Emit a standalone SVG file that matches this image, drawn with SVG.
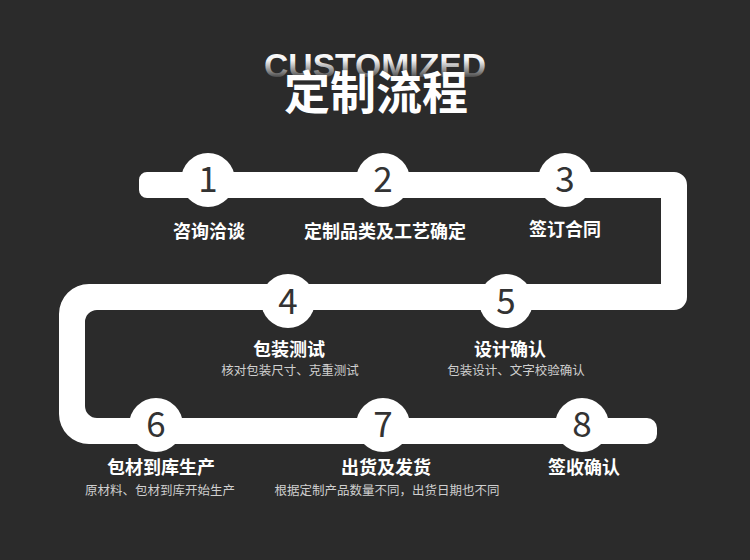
<svg xmlns="http://www.w3.org/2000/svg" width="750" height="560" viewBox="0 0 750 560">
  <defs>
    <linearGradient id="fade" gradientUnits="userSpaceOnUse" x1="0" y1="50" x2="0" y2="80">
      <stop offset="0" stop-color="#ffffff"/>
      <stop offset="0.35" stop-color="#f2f2f2"/>
      <stop offset="0.7" stop-color="#8a8a8a"/>
      <stop offset="1" stop-color="#2b2b2b"/>
    </linearGradient>
    <style>
      .num { font-family: "Noto Sans CJK SC", "Noto Sans", sans-serif; font-size: 35px; fill: #333333; text-anchor: middle; }
      .ttl { font-family: "Noto Sans CJK SC", sans-serif; font-size: 18px; font-weight: 700; fill: #ffffff; text-anchor: middle; }
      .sub { font-family: "Noto Sans CJK SC", sans-serif; font-size: 12.5px; fill: #cfcfcf; text-anchor: middle; }
      .dot { fill: #ffffff; }
    </style>
  </defs>
  <rect width="750" height="560" fill="#2b2b2b"/>
  <g id="header">
    <text x="375" y="77" font-family="Liberation Sans, Arial, sans-serif" font-weight="700" font-size="34" fill="url(#fade)" text-anchor="middle" textLength="222" lengthAdjust="spacingAndGlyphs">CUSTOMIZED</text>
    <text x="376" y="109" font-family="Noto Sans CJK SC, sans-serif" font-weight="700" font-size="46" fill="#ffffff" text-anchor="middle">定制流程</text>
  </g>
  <g id="connectors">
    <path fill="#ffffff" d="M 147 172 H 674 A 13 13 0 0 1 687 185 V 297 A 13 13 0 0 1 674 310 H 97 A 12 12 0 0 0 85 322 V 406 A 12 12 0 0 0 97 418 H 647 A 10 10 0 0 1 657 428 V 434 A 10 10 0 0 1 647 444 H 89 A 30 30 0 0 1 59 414 V 314 A 30 30 0 0 1 89 284 H 661 V 198 H 147 A 8 8 0 0 1 139 190 V 180 A 8 8 0 0 1 147 172 Z"/>
  </g>
  <g id="step1">
    <circle class="dot" cx="208" cy="180" r="27"/>
    <text class="num" x="208" y="192">1</text>
    <text class="ttl" x="209" y="238">咨询洽谈</text>
  </g>
  <g id="step2">
    <circle class="dot" cx="383" cy="180" r="27"/>
    <text class="num" x="383" y="192">2</text>
    <text class="ttl" x="385" y="238">定制品类及工艺确定</text>
  </g>
  <g id="step3">
    <circle class="dot" cx="565" cy="180" r="27"/>
    <text class="num" x="565" y="192">3</text>
    <text class="ttl" x="565" y="236">签订合同</text>
  </g>
  <g id="step4">
    <circle class="dot" cx="288" cy="301" r="27"/>
    <text class="num" x="288" y="314">4</text>
    <text class="ttl" x="289" y="356">包装测试</text>
    <text class="sub" x="290" y="375">核对包装尺寸、克重测试</text>
  </g>
  <g id="step5">
    <circle class="dot" cx="506" cy="301" r="27"/>
    <text class="num" x="506" y="314">5</text>
    <text class="ttl" x="510" y="356">设计确认</text>
    <text class="sub" x="516" y="375">包装设计、文字校验确认</text>
  </g>
  <g id="step6">
    <circle class="dot" cx="156" cy="425" r="27"/>
    <text class="num" x="156" y="437">6</text>
    <text class="ttl" x="161" y="474">包材到库生产</text>
    <text class="sub" x="160" y="495">原材料、包材到库开始生产</text>
  </g>
  <g id="step7">
    <circle class="dot" cx="383" cy="425" r="27"/>
    <text class="num" x="383" y="437">7</text>
    <text class="ttl" x="386" y="474">出货及发货</text>
    <text class="sub" x="387" y="495">根据定制产品数量不同，出货日期也不同</text>
  </g>
  <g id="step8">
    <circle class="dot" cx="582" cy="425" r="27"/>
    <text class="num" x="582" y="437">8</text>
    <text class="ttl" x="584" y="474">签收确认</text>
  </g>
</svg>
